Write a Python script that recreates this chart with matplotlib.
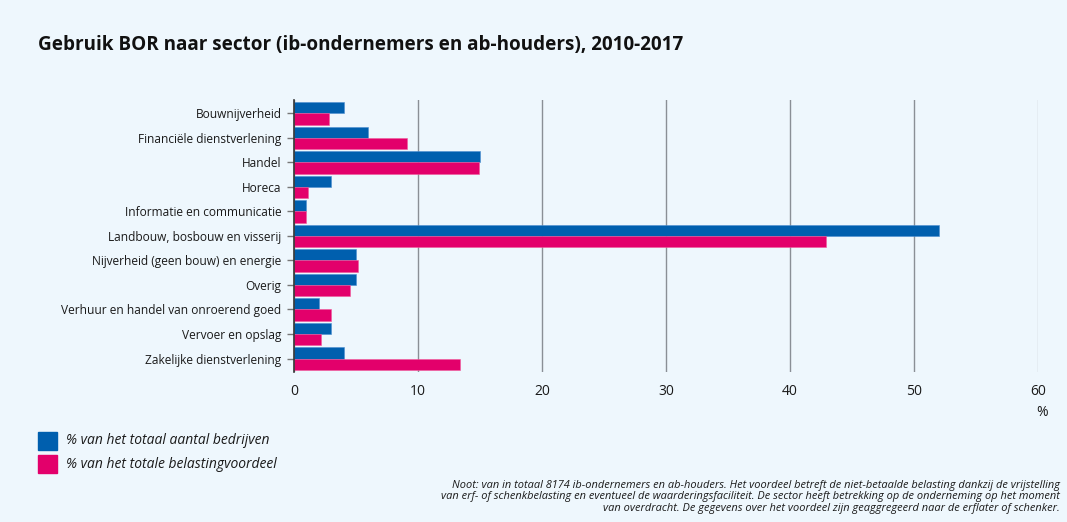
import matplotlib
matplotlib.use('Agg')
import matplotlib.pyplot as plt
import numpy as np

sectors = ['Bouwnijverheid', 'Financiële dienstverlening', 'Handel', 'Horeca',
           'Informatie en communicatie', 'Landbouw, bosbouw en visserij',
           'Nijverheid (geen bouw) en energie', 'Overig',
           'Verhuur en handel van onroerend goed', 'Vervoer en opslag',
           'Zakelijke dienstverlening']
pct_bedrijven = [4.0, 6.0, 15.0, 3.0, 1.0, 52.0, 5.0, 5.0, 2.0, 3.0, 4.0]
pct_voordeel = [2.8, 9.1, 14.9, 1.1, 1.0, 42.9, 5.2, 4.5, 3.0, 2.2, 13.4]
xticks = [0, 10, 20, 30, 40, 50, 60]
legend_labels = ['% van het totaal aantal bedrijven', '% van het totale belastingvoordeel']

blue = '#005fae'
pink = '#e3006b'
bg = '#eef7fd'

plt.rcParams['font.family'] = ['Open Sans', 'DejaVu Sans']

fig = plt.figure(figsize=(10.67, 5.22), dpi=100, facecolor=bg)
ax = fig.add_axes([0.2755, 0.2874, 0.6973, 0.521])
ax.set_facecolor(bg)

y = np.arange(len(sectors))
h = 0.45
ax.barh(y - h / 2, pct_bedrijven, height=h, color=blue, edgecolor='#4d8fd0', linewidth=0.4, zorder=3)
ax.barh(y + h / 2, pct_voordeel, height=h, color=pink, edgecolor='#f05a9a', linewidth=0.4, zorder=3)

ax.set_xlim(0, 60)
ax.set_ylim(len(sectors) - 0.45, -0.55)
ax.set_yticks(y)
ax.set_yticklabels(sectors, fontsize=8.6, color='#1a1a1a')
ax.set_xticks(xticks)
ax.set_xticklabels([str(t) for t in xticks], fontsize=10, color='#1a1a1a')
ax.tick_params(axis='x', length=0, pad=9)
ax.tick_params(axis='y', length=5, width=1, color='#777777', pad=4)
ax.grid(axis='x', color='#8a8f96', linewidth=1, zorder=0)
ax.get_xgridlines()[-1].set_color('#c3c8cd')
for s in ['top', 'right', 'bottom']:
    ax.spines[s].set_visible(False)
ax.spines['left'].set_color('#333333')
ax.spines['left'].set_linewidth(1.2)
ax.spines['left'].set_zorder(4)

fig.text(1042 / 1067, 1 - 413 / 522, '%', fontsize=10, ha='center', va='center', color='#1a1a1a')

fig.text(38 / 1067, 1 - 45 / 522, 'Gebruik BOR naar sector (ib-ondernemers en ab-houders), 2010-2017',
         fontsize=13.6, fontweight='bold', ha='left', va='center', color='#111111')

# legend
for i, (lab, c) in enumerate(zip(legend_labels, [blue, pink])):
    yc = 441 + i * 23
    fig.patches.append(plt.Rectangle((38 / 1067, 1 - (yc + 9) / 522), 19 / 1067, 18 / 522,
                                     transform=fig.transFigure, color=c, figure=fig))
    fig.text(66 / 1067, 1 - yc / 522, lab, fontsize=10, style='italic', ha='left', va='center',
             color='#1a1a1a')

note = ('Noot: van in totaal 8174 ib-ondernemers en ab-houders. Het voordeel betreft de niet-betaalde belasting dankzij de vrijstelling\n'
        'van erf- of schenkbelasting en eventueel de waarderingsfaciliteit. De sector heeft betrekking op de onderneming op het moment\n'
        'van overdracht. De gegevens over het voordeel zijn geaggregeerd naar de erflater of schenker.')
fig.text(1060 / 1067, 1 - 497 / 522, note, fontsize=7.9, style='italic', ha='right', va='center',
         multialignment='right', linespacing=1.1, color='#1a1a1a')

fig.savefig('out.png', dpi=100, facecolor=bg)
